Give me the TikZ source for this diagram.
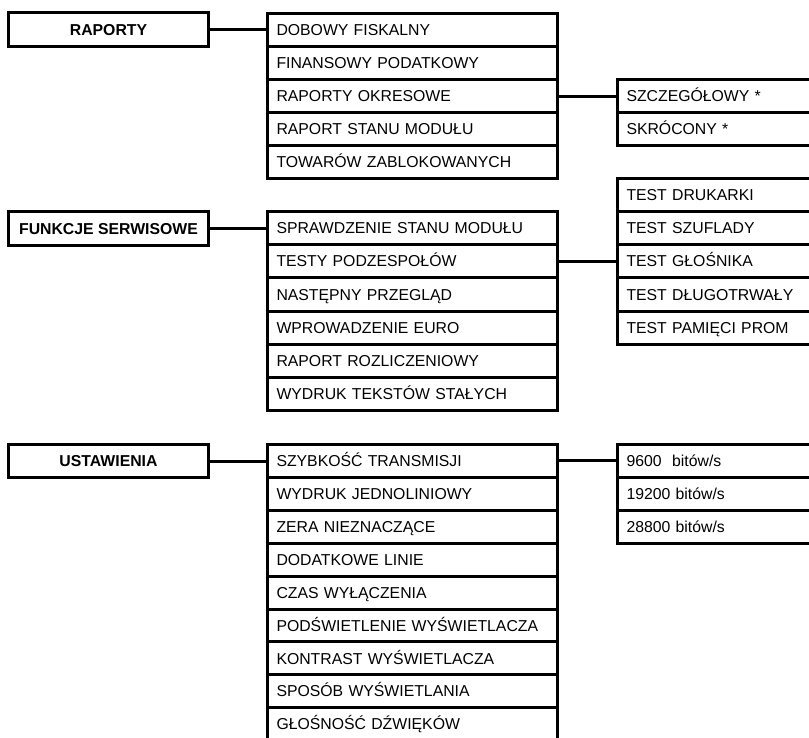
\documentclass[tikz,border=0pt]{standalone}
\usepackage{fontspec}
\setmainfont{Liberation Sans}
\begin{document}
\begin{tikzpicture}[x=1pt,y=-1pt,line width=3pt,
  every node/.style={font=\fontsize{15.8}{19}\selectfont, text height=11.3pt, text depth=0pt, inner sep=0pt},
  head/.style={draw, anchor=north west, minimum width=200pt, font=\fontsize{15.8}{19}\selectfont\bfseries},
  item/.style={draw, anchor=north west, minimum width=289.5pt, text width=271.5pt, align=left, inner xsep=9pt},
  sub/.style={draw, anchor=north west, minimum width=214pt, text width=196pt, align=left, inner xsep=9pt},
  link/.style={line width=3pt}]
\useasboundingbox (0,0) rectangle (809,737);
\clip (0,0) rectangle (809,737);

% ---------- RAPORTY ----------
\node[head, minimum height=34pt] (rap) at (7,11) {RAPORTY};
\begin{scope}[every node/.append style={minimum height=33pt}]
\node[item] (r1) at (266,12)  {DOBOWY FISKALNY};
\node[item] (r2) at (266,45)  {FINANSOWY PODATKOWY};
\node[item] (r3) at (266,78)  {RAPORTY OKRESOWE};
\node[item] (r4) at (266,111) {RAPORT STANU MODUŁU};
\node[item] (r5) at (266,144) {TOWARÓW ZABLOKOWANYCH};
\node[sub] (rs1) at (616,78)  {SZCZEGÓŁOWY *};
\node[sub] (rs2) at (616,111) {SKRÓCONY *};
\end{scope}
\draw[link] (rap.east) -- (rap.east -| r1.west);
\draw[link] (r3.east) -- (r3.east -| rs1.west);

% ---------- FUNKCJE SERWISOWE ----------
\node[head, minimum height=34pt] (fun) at (7,210) {FUNKCJE SERWISOWE};
\begin{scope}[every node/.append style={minimum height=33.2pt}]
\node[item] (f1) at (266,210)   {SPRAWDZENIE STANU MODUŁU};
\node[item] (f2) at (266,243.2) {TESTY PODZESPOŁÓW};
\node[item] (f3) at (266,276.4) {NASTĘPNY PRZEGLĄD};
\node[item] (f4) at (266,309.6) {WPROWADZENIE EURO};
\node[item] (f5) at (266,342.8) {RAPORT ROZLICZENIOWY};
\node[item] (f6) at (266,376)   {WYDRUK TEKSTÓW STAŁYCH};
\node[sub] (ft1) at (616,176.8) {TEST DRUKARKI};
\node[sub] (ft2) at (616,210)   {TEST SZUFLADY};
\node[sub] (ft3) at (616,243.2) {TEST GŁOŚNIKA};
\node[sub] (ft4) at (616,276.4) {TEST DŁUGOTRWAŁY};
\node[sub] (ft5) at (616,309.6) {TEST PAMIĘCI PROM};
\end{scope}
\draw[link] (fun.east) -- (fun.east -| f1.west);
\draw[link] (f2.east) -- (f2.east -| ft3.west);

% ---------- USTAWIENIA ----------
\node[head, minimum height=33pt] (ust) at (7,443) {USTAWIENIA};
\begin{scope}[every node/.append style={minimum height=32.9pt}]
\node[item] (u1) at (266,443)   {SZYBKOŚĆ TRANSMISJI};
\node[item] (u2) at (266,475.9) {WYDRUK JEDNOLINIOWY};
\node[item] (u3) at (266,508.8) {ZERA NIEZNACZĄCE};
\node[item] (u4) at (266,541.7) {DODATKOWE LINIE};
\node[item] (u5) at (266,574.6) {CZAS WYŁĄCZENIA};
\node[item] (u6) at (266,607.5) {PODŚWIETLENIE WYŚWIETLACZA};
\node[item] (u7) at (266,640.4) {KONTRAST WYŚWIETLACZA};
\node[item] (u8) at (266,673.3) {SPOSÓB WYŚWIETLANIA};
\node[item] (u9) at (266,706.2) {GŁOŚNOŚĆ DŹWIĘKÓW};
\node[sub] (ub1) at (616,443)   {9600\ \ bitów/s};
\node[sub] (ub2) at (616,475.9) {19200 bitów/s};
\node[sub] (ub3) at (616,508.8) {28800 bitów/s};
\end{scope}
\draw[link] (ust.east) -- (ust.east -| u1.west);
\draw[link] (u1.east) -- (u1.east -| ub1.west);
\end{tikzpicture}
\end{document}
